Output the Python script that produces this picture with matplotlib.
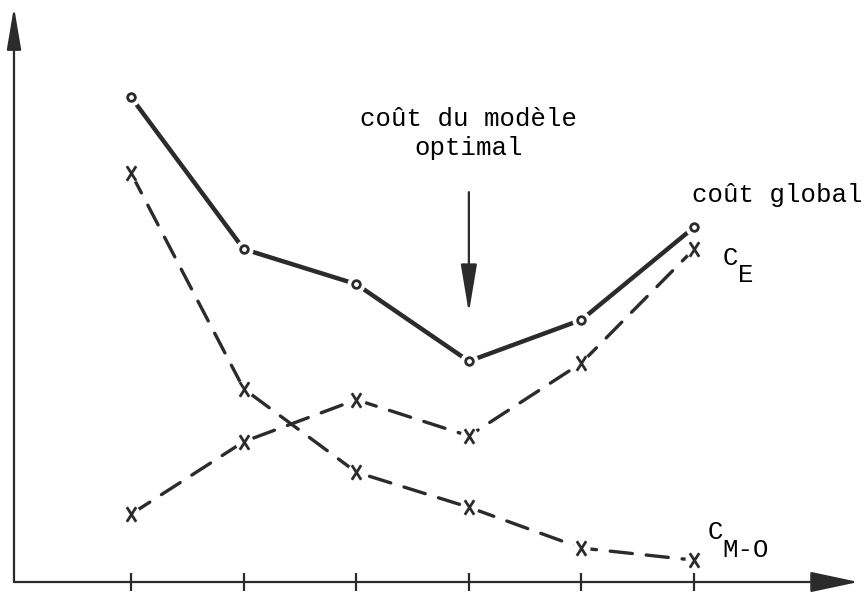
import matplotlib
matplotlib.use("Agg")
import matplotlib.pyplot as plt
from matplotlib.path import Path

plt.rcParams['lines.scale_dashes'] = False

# ---- data (arbitrary cost units) ----
complexity = [1, 2, 3, 4, 5, 6]
cout_global = [8.43, 5.79, 5.18, 3.84, 4.56, 6.17]
cout_E = [1.18, 2.44, 3.17, 2.54, 3.81, 5.79]
cout_MO = [7.11, 3.36, 1.91, 1.30, 0.59, 0.38]

label_global = "coût global"
label_optimal = "coût du modèle\noptimal"
label_E = ("C", "E")
label_MO = ("C", "M-O")
optimal_x = 4

INK = "#2b2b2b"
FONT = "Liberation Mono"
FS = 18.5

fig = plt.figure(figsize=(8.67, 5.96), dpi=100)
W, H = 867, 596
ax = fig.add_axes([14 / W, (H - 582) / H, (850 - 14) / W, (582 - 7) / H])
ax.set_xlim(-0.04, 7.385)
ax.set_ylim(0, 10)
for s in ax.spines.values():
    s.set_visible(False)

# axes drawn as arrows
ax.annotate("", xy=(1.01, 0), xytext=(0, 0), xycoords='axes fraction',
            textcoords='axes fraction',
            arrowprops=dict(arrowstyle='-|>,head_length=1.5,head_width=0.32',
                            color=INK, lw=1.6, mutation_scale=20,
                            shrinkA=0, shrinkB=0),
            annotation_clip=False)
ax.annotate("", xy=(0, 1), xytext=(0, 0), xycoords='axes fraction',
            textcoords='axes fraction',
            arrowprops=dict(arrowstyle='-|>,head_length=1.3,head_width=0.22',
                            color=INK, lw=1.6, mutation_scale=20,
                            shrinkA=0, shrinkB=0),
            annotation_clip=False)

ax.set_xticks(complexity)
ax.set_xticklabels([])
ax.set_yticks([])
ax.tick_params(axis='x', direction='inout', length=13, width=1.6, color=INK)

# custom tall "X" marker
xmark = Path([(-0.32, -0.5), (0.32, 0.5), (-0.32, 0.5), (0.32, -0.5)],
             [Path.MOVETO, Path.LINETO, Path.MOVETO, Path.LINETO])

# global cost: thick solid line with open circles
ax.plot(complexity, cout_global, color=INK, lw=3.2, solid_capstyle='round',
        zorder=2, clip_on=False)
ax.plot(complexity, cout_global, ls='none', marker='o', ms=13, mfc='white',
        mec='none', zorder=3, clip_on=False)
ax.plot(complexity, cout_global, ls='none', marker='o', ms=5.5, mfc='white',
        mec=INK, mew=2.0, zorder=4, clip_on=False)

# dashed curves with X markers
for ys in (cout_E, cout_MO):
    ax.plot(complexity, ys, color=INK, lw=2.4, ls=(0, (16, 10)),
            dash_capstyle='round', zorder=2, clip_on=False)
    ax.plot(complexity, ys, ls='none', marker='o', ms=13, mfc='white',
            mec='none', zorder=3, clip_on=False)
    ax.plot(complexity, ys, ls='none', marker=xmark, ms=10.5, mfc='none',
            mec=INK, mew=2.0, zorder=4, clip_on=False)

# annotation for the optimal model
ax.text(optimal_x, 7.8, label_optimal, ha='center', va='center',
        family=FONT, fontsize=FS, linespacing=1.25, color='black')
ax.annotate("", xy=(optimal_x, 4.68), xytext=(optimal_x, 6.78),
            arrowprops=dict(arrowstyle='-|>,head_length=1.5,head_width=0.25',
                            color=INK, lw=1.6, mutation_scale=20,
                            shrinkA=0, shrinkB=0))

# curve labels
ax.text(5.98, 6.73, label_global, ha='left', va='center', family=FONT,
        fontsize=FS, color='black', clip_on=False)
ax.text(6.25, 5.63, label_E[0], ha='left', va='center', family=FONT,
        fontsize=FS, color='black', clip_on=False)
ax.text(6.39, 5.34, label_E[1], ha='left', va='center', family=FONT,
        fontsize=FS, color='black', clip_on=False)
ax.text(6.12, 0.87, label_MO[0], ha='left', va='center', family=FONT,
        fontsize=FS, color='black', clip_on=False)
ax.text(6.25, 0.56, label_MO[1], ha='left', va='center', family=FONT,
        fontsize=FS, color='black', clip_on=False)

fig.savefig("out.png", dpi=100)
